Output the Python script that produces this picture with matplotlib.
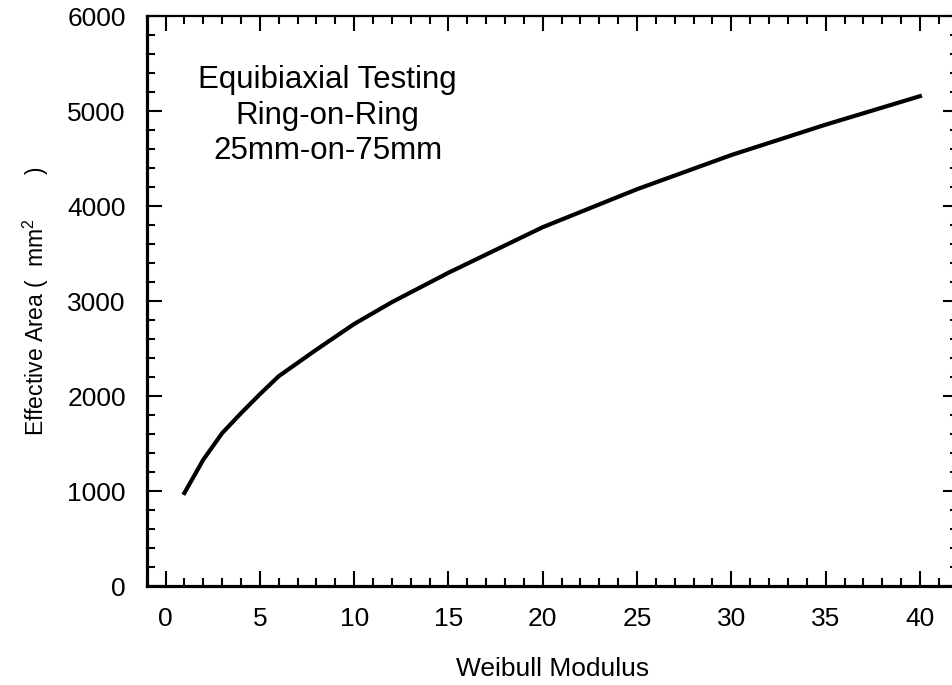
import matplotlib
matplotlib.use("Agg")
import matplotlib.pyplot as plt
from matplotlib.ticker import MultipleLocator

plt.rcParams['font.family'] = ['Liberation Sans', 'DejaVu Sans']
plt.rcParams['mathtext.fontset'] = 'custom'
plt.rcParams['mathtext.rm'] = 'Liberation Sans'
plt.rcParams['mathtext.it'] = 'Liberation Sans'

# Effective area vs Weibull modulus
modulus = [1, 2, 3, 4, 5, 6, 8, 10, 12, 15, 20, 25, 30, 35, 40]
area = [980, 1330, 1610, 1820, 2020, 2210, 2490, 2760, 2990, 3300,
        3780, 4180, 4540, 4860, 5160]

note_lines = ["Equibiaxial Testing", "Ring-on-Ring", "25mm-on-75mm"]

fig = plt.figure(figsize=(9.53, 6.85), dpi=100)
ax = fig.add_axes([0.1539, 0.1445, 0.851, 0.8315])

ax.plot(modulus, area, color='black', linewidth=3.0)

ax.set_xlim(-1, 42)
ax.set_ylim(0, 6000)
ax.xaxis.set_major_locator(MultipleLocator(5))
ax.xaxis.set_minor_locator(MultipleLocator(1))
ax.yaxis.set_major_locator(MultipleLocator(1000))
ax.yaxis.set_minor_locator(MultipleLocator(200))

ax.tick_params(which='both', direction='in', top=True, right=True,
               width=1.5, labelsize=19, colors='black')
ax.tick_params(which='major', length=10.5, pad=15)
ax.tick_params(which='minor', length=6)
ax.set_xticks(range(0, 41, 5))

for side in ['left', 'bottom']:
    ax.spines[side].set_linewidth(2.3)
for side in ['top', 'right']:
    ax.spines[side].set_linewidth(1.6)

ax.set_xlabel('Weibull Modulus', fontsize=19, labelpad=19)
ax.set_ylabel('Effective Area (  mm$^2$       )', fontsize=16.5, labelpad=12)

ax.text(8.6, 5490, "\n".join(note_lines), ha='center', va='top',
        fontsize=22.5, linespacing=1.25)

fig.savefig('out.png', dpi=100)
